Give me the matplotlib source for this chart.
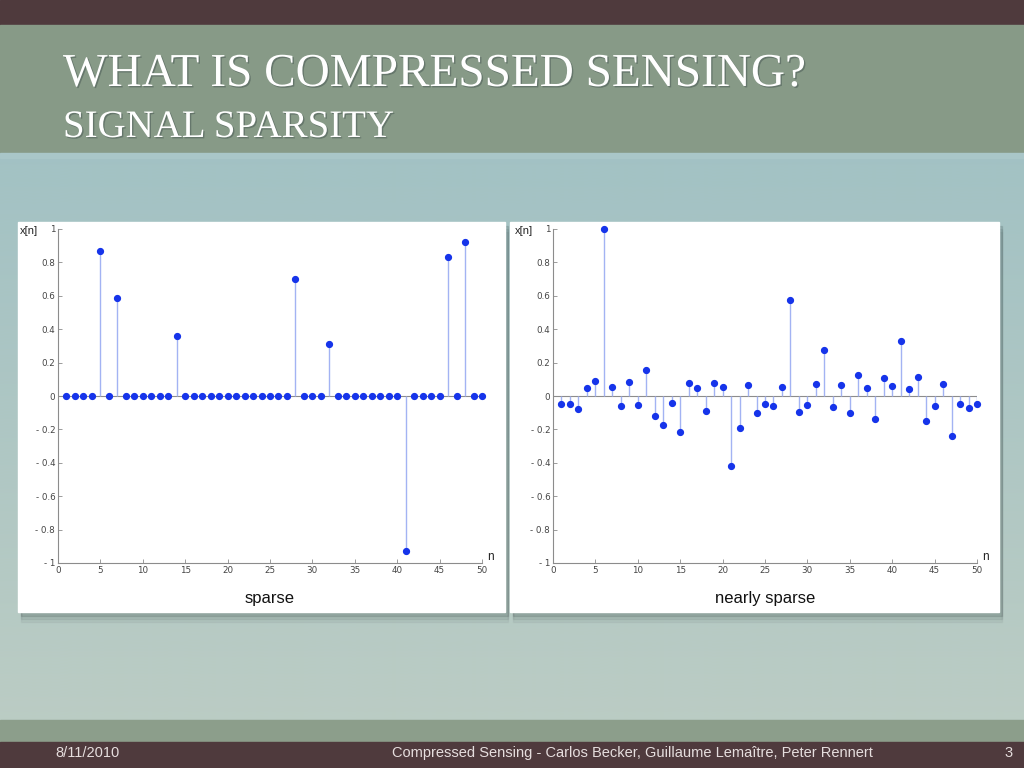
import numpy as np
import matplotlib.pyplot as plt
from matplotlib.patches import Rectangle
import matplotlib.patheffects as pe

# --- data ---
n = np.arange(1, 51)

sparse_idx = [5, 7, 14, 28, 32, 41, 46, 48]
sparse_val = [0.87, 0.585, 0.36, 0.70, 0.31, -0.93, 0.83, 0.92]
x_sparse = np.zeros(50)
for i, v in zip(sparse_idx, sparse_val):
    x_sparse[i - 1] = v

x_nearly = np.array([
    -0.046, -0.046, -0.076, 0.046, 0.090, 1.000, 0.052, -0.060, 0.084, -0.052,
    0.158, -0.122, -0.174, -0.044, -0.214, 0.080, 0.046, -0.088, 0.078, 0.056,
    -0.418, -0.192, 0.064, -0.104, -0.048, -0.060, 0.056, 0.574, -0.096, -0.054,
    0.074, 0.276, -0.066, 0.066, -0.100, 0.128, 0.048, -0.138, 0.108, 0.058,
    0.330, 0.044, 0.114, -0.148, -0.062, 0.072, -0.240, -0.050, -0.070, -0.050,
])

xticks = [0, 5, 10, 15, 20, 25, 30, 35, 40, 45, 50]
yticks = [-1, -0.8, -0.6, -0.4, -0.2, 0, 0.2, 0.4, 0.6, 0.8, 1]
yticklabels = ['- 1', '- 0.8', '- 0.6', '- 0.4', '- 0.2', '0', '0.2', '0.4', '0.6', '0.8', '1']

title = 'WHAT IS COMPRESSED SENSING?'
subtitle = 'SIGNAL SPARSITY'
footer_date = '8/11/2010'
footer_text = 'Compressed Sensing - Carlos Becker, Guillaume Lemaître, Peter Rennert'
page = '3'

W, H = 1024, 768
fig = plt.figure(figsize=(W / 100, H / 100), dpi=100)


def fr(x0, y0, x1, y1, **kw):
    # rectangle given in pixel coords (top-left origin)
    return Rectangle((x0 / W, 1 - y1 / H), (x1 - x0) / W, (y1 - y0) / H,
                     transform=fig.transFigure, **kw)


# --- slide background ---
bg = fig.add_axes([0, 0, 1, 1], zorder=-10)
bg.set_axis_off()
grad = np.linspace(0, 1, 256)[:, None]
c_top = np.array([0x9c, 0xbf, 0xc4]) / 255
c_bot = np.array([0xbd, 0xcd, 0xc4]) / 255
img = c_top[None, None, :] * (1 - grad[:, :, None]) + c_bot[None, None, :] * grad[:, :, None]
bg.imshow(img, extent=[0, 1, 0, 1], aspect='auto', origin='upper')
bg.set_xlim(0, 1)
bg.set_ylim(0, 1)

fig.patches.append(fr(0, 0, W, 25, color='#4f3a3d', zorder=-5))
fig.patches.append(fr(0, 25, W, 153, color='#879a87', zorder=-5))
fig.patches.append(fr(0, 153, W, 158, color='#a9c6c8', zorder=-5))
fig.patches.append(fr(0, 720, W, 742, color='#8c9e8b', zorder=-5))
fig.patches.append(fr(0, 742, W, H, color='#4f3a3d', zorder=-5))

# panels with soft shadow
for x0, x1 in [(18, 505), (510, 999)]:
    for k, a in [(10, 0.05), (7, 0.08), (4, 0.14)]:
        fig.patches.append(fr(x0 + 3, 222 + k, x1 + 3, 612 + k, color='#2a3838', alpha=a, zorder=-4))
    fig.patches.append(fr(x0, 222, x1, 612, color='white', zorder=-3))

glow = [pe.withSimplePatchShadow(offset=(1, -1), shadow_rgbFace='#50605a', alpha=0.6)]
fig.text(63 / W, 1 - 86 / H, title, fontsize=34, family='Liberation Serif',
         color='white', va='baseline', path_effects=glow)
fig.text(63 / W, 1 - 137 / H, subtitle, fontsize=28, family='Liberation Serif',
         color='white', va='baseline', path_effects=glow)

fig.text(55 / W, 1 - 753 / H, footer_date, fontsize=10.5, family='Liberation Sans',
         color='#e6dede', va='center')
fig.text(632 / W, 1 - 753 / H, footer_text, fontsize=10.5, family='Liberation Sans',
         color='#e6dede', va='center', ha='center')
fig.text(1009 / W, 1 - 753 / H, page, fontsize=10.5, family='Liberation Sans',
         color='#e6dede', va='center', ha='center')


def stem_panel(x_left, values, label):
    ax = fig.add_axes([x_left / W, 1 - 563 / H, 424 / W, 334 / H])
    ax.set_facecolor('none')
    ax.axhline(0, color='#8c8c8c', lw=0.8, zorder=1)
    markers, stems, base = ax.stem(n, values, basefmt=' ')
    plt.setp(stems, color='#a3b3f3', lw=1.0)
    plt.setp(markers, color='#1634ea', markersize=4.2, zorder=3, clip_on=False)
    ax.set_xlim(0, 50)
    ax.set_ylim(-1, 1)
    ax.set_xticks(xticks)
    ax.set_yticks(yticks)
    ax.set_yticklabels(yticklabels)
    for s in ['top', 'right']:
        ax.spines[s].set_visible(False)
    for s in ['left', 'bottom']:
        ax.spines[s].set_color('#8c8c8c')
        ax.spines[s].set_linewidth(0.8)
    ax.tick_params(direction='in', length=3, width=0.6, color='#8c8c8c',
                   labelsize=6.3, labelcolor='#444444', pad=2)
    ax.text(-0.048, 0.995, 'x[n]', transform=ax.transAxes, ha='right', va='center',
            fontsize=8, family='Liberation Sans', color='#222222')
    ax.text(1.012, 0.0, 'n', transform=ax.transAxes, ha='left', va='bottom',
            fontsize=8.5, family='Liberation Sans', color='#222222')
    ax.text(0.5, -0.105, label, transform=ax.transAxes, ha='center', va='center',
            fontsize=12, family='Liberation Sans', color='#111111')
    return ax


stem_panel(58, x_sparse, 'sparse')
stem_panel(553, x_nearly, 'nearly sparse')

fig.savefig('out.png', dpi=100)
